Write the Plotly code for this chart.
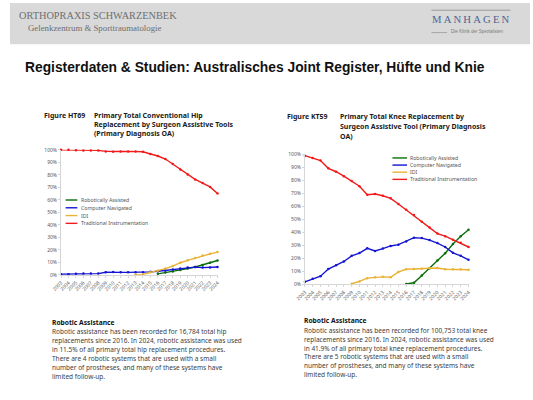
import plotly.graph_objects as go

W, H = 533, 400

years = list(range(2003, 2025))
series_names = ["Robotically Assisted", "Computer Navigated", "IDI", "Traditional Instrumentation"]
series_colors = ["#0a6e0a", "#1414d2", "#eab234", "#f21a1a"]

N = None
hip_robot = [N]*13 + [0.8, 1.8, 2.6, 3.9, 5.0, 6.3, 7.9, 9.7, 11.5]
hip_cn = [0.5, 0.5, 0.8, 1.0, 1.0, 1.0, 2.1, 2.3, 2.0, 2.0, 2.0, 2.0, 2.4, 2.9, 3.5, 4.3, 5.0, 5.8, 6.2, 5.8, 5.9, 6.3]
hip_idi = [N]*10 + [0.2, 0.4, 2.0, 3.2, 5.0, 7.0, 9.7, 11.6, 13.4, 15.5, 16.8, 18.2]
hip_trad = [100, 100, 99.7, 99.5, 99.5, 99.5, 98.7, 98.4, 98.6, 98.7, 98.7, 98.4, 96.6, 95.0, 92.6, 88.7, 84.2, 80.3, 76.3, 73.4, 70.3, 65.0]

knee_robot = [N]*13 + [0.3, 1.3, 6.8, 12.3, 18.4, 23.9, 31.0, 37.0, 41.9]
knee_cn = [2.0, 4.3, 6.3, 11.8, 14.6, 17.6, 21.9, 24.0, 27.7, 25.7, 27.5, 29.5, 30.5, 33.0, 35.8, 35.5, 34.0, 31.7, 28.7, 24.2, 21.9, 18.9]
knee_idi = [N]*6 + [0.5, 2.3, 4.8, 5.5, 5.8, 5.5, 9.6, 11.6, 11.8, 12.1, 12.6, 12.6, 11.6, 11.6, 11.6, 11.3]
knee_trad = [98.7, 97.0, 95.0, 89.0, 86.4, 83.0, 79.3, 75.3, 68.8, 69.3, 68.0, 66.0, 61.7, 57.2, 53.2, 48.0, 43.6, 39.0, 37.0, 34.3, 32.0, 28.7]

y_ticks = list(range(0, 101, 10))
y_tick_labels = [f"{v}%" for v in y_ticks]
x_tick_labels = [str(y) for y in years]

main_title = "Registerdaten & Studien: Australisches Joint Register, Hüfte und Knie"
hip_fig_label = "Figure HT69"
hip_title_lines = ["Primary Total Conventional Hip", "Replacement by Surgeon Assistive Tools", "(Primary Diagnosis OA)"]
knee_fig_label = "Figure KT59"
knee_title_lines = ["Primary Total Knee Replacement by", "Surgeon Assistive Tool (Primary Diagnosis", "OA)"]
hip_text = ["Robotic assistance has been recorded for 16,784 total hip",
            "replacements since 2016. In 2024, robotic assistance was used",
            "in 11.5% of all primary total hip replacement procedures.",
            "There are 4 robotic systems that are used with a small",
            "number of prostheses, and many of these systems have",
            "limited follow-up."]
knee_text = ["Robotic assistance has been recorded for 100,753 total knee",
             "replacements since 2016. In 2024, robotic assistance was used",
             "in 41.9% of all primary total knee replacement procedures.",
             "There are 5 robotic systems that are used with a small",
             "number of prostheses, and many of these systems have",
             "limited follow-up."]


def px(x):
    return x / W


def py(y):
    return 1 - y / H


fig = go.Figure()

hip_series = [hip_robot, hip_cn, hip_idi, hip_trad]
knee_series = [knee_robot, knee_cn, knee_idi, knee_trad]

for name, col, vals in zip(series_names, series_colors, hip_series):
    fig.add_trace(go.Scatter(x=years, y=vals, mode="lines+markers", name=name,
                             line=dict(color=col, width=1.4), marker=dict(color=col, size=2.5),
                             xaxis="x", yaxis="y", showlegend=False, cliponaxis=False,
                             connectgaps=False))
for name, col, vals in zip(series_names, series_colors, knee_series):
    fig.add_trace(go.Scatter(x=years, y=vals, mode="lines+markers", name=name,
                             line=dict(color=col, width=1.4), marker=dict(color=col, size=2.5),
                             xaxis="x2", yaxis="y2", showlegend=False, cliponaxis=False,
                             connectgaps=False))

tickfont = dict(family="Noto Sans", size=5, color="#595959")
axis_common = dict(showgrid=False, zeroline=False, showline=True, linecolor="#d6d6d6", linewidth=1,
                   ticks="outside", ticklen=2, tickcolor="#d6d6d6", tickfont=tickfont)

fig.update_layout(
    width=W, height=H, margin=dict(l=0, r=0, t=0, b=0),
    paper_bgcolor="white", plot_bgcolor="white", showlegend=False,
    xaxis=dict(domain=[px(52.3), px(212.7)], range=[2003, 2024], tickmode="array",
               tickvals=years, ticktext=x_tick_labels, tickangle=-45, anchor="y", **axis_common),
    yaxis=dict(domain=[py(276), py(149)], range=[0, 100], tickmode="array",
               tickvals=y_ticks, ticktext=y_tick_labels, anchor="x", **axis_common),
    xaxis2=dict(domain=[px(302.3), px(470)], range=[2003, 2024], tickmode="array",
                tickvals=years, ticktext=x_tick_labels, tickangle=-45, anchor="y2", **axis_common),
    yaxis2=dict(domain=[py(285.7), py(153.3)], range=[0, 100], tickmode="array",
                tickvals=y_ticks, ticktext=y_tick_labels, anchor="x2", **axis_common),
)

shapes = []
ann = []

# header band
shapes.append(dict(type="rect", xref="paper", yref="paper", x0=0, x1=1, y0=py(42), y1=1,
                   fillcolor="#d9d9d9", line=dict(width=0), layer="below"))
shapes.append(dict(type="line", xref="paper", yref="paper", x0=px(432), x1=px(513), y0=py(7.3), y1=py(7.3),
                   line=dict(color="#9a9a9a", width=1)))
shapes.append(dict(type="line", xref="paper", yref="paper", x0=px(432), x1=px(448), y0=py(30), y1=py(30),
                   line=dict(color="#9a9a9a", width=0.8)))

ann.append(dict(text="ORTHOPRAXIS SCHWARZENBEK", x=px(7), y=py(12.7),
                font=dict(family="Liberation Serif", size=10.3, color="#6e6e6e")))
ann.append(dict(text="Gelenkzentrum &amp; Sporttraumatologie", x=px(16), y=py(25.7),
                font=dict(family="Liberation Serif", size=8.8, color="#6e6e6e")))
ann.append(dict(text="M\u2009A\u2009N\u2009H\u2009A\u2009G\u2009E\u2009N", x=px(431), y=py(16.5),
                font=dict(family="Liberation Serif", size=10.7, color="#4d6592")))
ann.append(dict(text="Die Klinik der Spezialisten", x=px(450), y=py(29.3),
                font=dict(family="Liberation Sans", size=4.5, color="#7a7a7a")))

ann.append(dict(text="<b>" + main_title.replace("&", "&amp;") + "</b>", x=px(13), y=py(65),
                font=dict(family="Liberation Sans", size=13.8, color="#111111")))

title_font = dict(family="Noto Sans", size=7.0, color="#1a1a1a")
ann.append(dict(text="<b>" + hip_fig_label + "</b>", x=px(33), y=py(114), font=title_font))
for i, t in enumerate(hip_title_lines):
    ann.append(dict(text="<b>" + t + "</b>", x=px(84), y=py(114 + 9.4 * i), font=title_font))
ann.append(dict(text="<b>" + knee_fig_label + "</b>", x=px(282.3), y=py(115.7), font=title_font))
for i, t in enumerate(knee_title_lines):
    ann.append(dict(text="<b>" + t + "</b>", x=px(335.7), y=py(115.7 + 9.8 * i), font=title_font))

# legends
leg_font = dict(family="Noto Sans", size=5.2, color="#555555")
for i, (name, col) in enumerate(zip(series_names, series_colors)):
    yy = 200 + 7.9 * i
    shapes.append(dict(type="line", xref="paper", yref="paper", x0=px(57), x1=px(69), y0=py(yy), y1=py(yy),
                       line=dict(color=col, width=1.4)))
    ann.append(dict(text=name, x=px(71), y=py(yy), font=leg_font))
    yy2 = 157.3 + 7.25 * i
    shapes.append(dict(type="line", xref="paper", yref="paper", x0=px(392), x1=px(407), y0=py(yy2), y1=py(yy2),
                       line=dict(color=col, width=1.4)))
    ann.append(dict(text=name, x=px(408), y=py(yy2), font=leg_font))

# body text
body_font = dict(family="Noto Sans", size=6.5, color="#404040")
head_font = dict(family="Noto Sans", size=6.7, color="#111111")
ann.append(dict(text="<b>Robotic Assistance</b>", x=px(40.7), y=py(324.3), font=head_font))
for i, t in enumerate(hip_text):
    ann.append(dict(text=t, x=px(40.7), y=py(334.0 + 9.05 * i), font=body_font))
ann.append(dict(text="<b>Robotic Assistance</b>", x=px(299.3), y=py(322.7), font=head_font))
for i, t in enumerate(knee_text):
    ann.append(dict(text=t, x=px(299.3), y=py(332.3 + 9.0 * i), font=body_font))

for a in ann:
    a.update(xref="paper", yref="paper", xanchor="left", yanchor="middle", showarrow=False)

fig.update_layout(shapes=shapes, annotations=ann)

fig.write_html("out.html")
